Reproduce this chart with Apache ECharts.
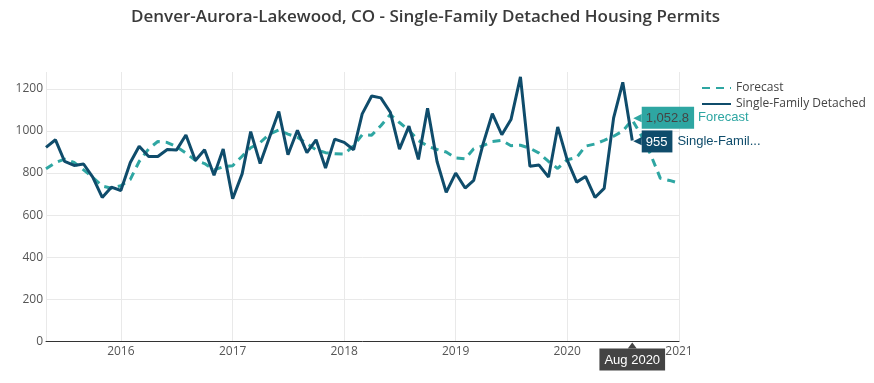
<!DOCTYPE html>
<html>
<head>
<meta charset="utf-8">
<script src="https://cdn.jsdelivr.net/npm/echarts@6/dist/echarts.min.js"></script>
<style>
html,body{margin:0;padding:0;background:#fff;}
#chart{width:874px;height:383px;}
</style>
</head>
<body>
<div id="chart"></div>
<script>
// ---- data ----
const titleText = 'Denver-Aurora-Lakewood, CO - Single-Family Detached Housing Permits';
const seriesNames = ['Forecast', 'Single-Family Detached'];
const months = [
  '2015-05','2015-06','2015-07','2015-08','2015-09','2015-10','2015-11','2015-12',
  '2016-01','2016-02','2016-03','2016-04','2016-05','2016-06','2016-07','2016-08','2016-09','2016-10','2016-11','2016-12',
  '2017-01','2017-02','2017-03','2017-04','2017-05','2017-06','2017-07','2017-08','2017-09','2017-10','2017-11','2017-12',
  '2018-01','2018-02','2018-03','2018-04','2018-05','2018-06','2018-07','2018-08','2018-09','2018-10','2018-11','2018-12',
  '2019-01','2019-02','2019-03','2019-04','2019-05','2019-06','2019-07','2019-08','2019-09','2019-10','2019-11','2019-12',
  '2020-01','2020-02','2020-03','2020-04','2020-05','2020-06','2020-07','2020-08','2020-09','2020-10','2020-11','2020-12',
  '2021-01'
];
const forecast = [
  820, 850, 866, 850, 815, 780, 738, 728,
  740, 770, 855, 915, 950, 945, 925, 895, 860, 845, 815, 830,
  835, 880, 920, 945, 985, 1005, 985, 970, 940, 910, 897, 892,
  890, 930, 982, 980, 1025, 1078, 1040, 1003, 955, 928, 912, 900,
  872, 868, 915, 930, 950, 955, 930, 932, 918, 895, 855, 822,
  863, 874, 928, 938, 955, 975, 1000, 1052.8, 975, 885, 775, 765,
  752
];
const singleFamily = [
  922, 958, 855, 836, 843, 781, 684, 733,
  717, 850, 927, 879, 879, 912, 909, 981, 860, 911, 790, 914,
  678, 796, 997, 845, 968, 1092, 887, 1003, 897, 958, 824, 961,
  946, 911, 1081, 1166, 1157, 1089, 914, 1023, 865, 1108, 855, 708,
  800, 729, 765, 940, 1082, 982, 1054, 1257, 832, 838, 781, 1019,
  863, 757, 784, 684, 727, 1062, 1231, 955
];
const hoverMonth = '2020-08';
const hoverLabel = 'Aug 2020';
const sfShortName = 'Single-Famil...';

const C_FC = '#2ea6a2';
const C_SF = '#0f4c6b';

function toDate(m){ return m + '-01'; }
function fmtNum(v){ return v.toLocaleString('en-US'); }

const hoverIdx = months.indexOf(hoverMonth);

function buildData(vals, isForecast){
  return vals.map(function(v, i){
    const item = { value: [toDate(months[i]), v] };
    if (i === hoverIdx){
      item.symbol = 'circle';
      item.symbolSize = 0.01;
      const col = isForecast ? C_FC : C_SF;
      item.label = {
        show: true,
        position: 'right',
        distance: 1,
        offset: isForecast ? [0, -2] : [0, 1],
        formatter: '{arr|\u25C0}{box|' + fmtNum(v) + '}{nm|' + (isForecast ? seriesNames[0] : sfShortName) + '}',
        rich: {
          arr: { color: col, fontSize: 11, fontFamily: 'DejaVu Sans', lineHeight: 22 },
          box: { backgroundColor: col, color: isForecast ? '#444' : '#fff', fontSize: 13, fontFamily: 'Liberation Sans', padding: [5, 5, 4, 4], lineHeight: 13 },
          nm: { color: col, fontSize: 13, fontFamily: 'Liberation Sans', padding: [0, 0, 0, isForecast ? 4 : 5] }
        }
      };
    }
    return item;
  });
}

const chart = echarts.init(document.getElementById('chart'), null, {renderer: 'canvas'});
const hoverTime = new Date(2020, 7, 1).getTime();

chart.setOption({
  animation: false,
  backgroundColor: '#fff',
  title: {
    text: titleText,
    left: 126,
    top: 4,
    textStyle: { fontFamily: 'Open Sans', fontWeight: 600, fontSize: 17, color: '#3a3a3a' }
  },
  legend: {
    orient: 'vertical',
    left: 696,
    top: 77,
    itemWidth: 29,
    itemHeight: 14,
    itemGap: 4,
    itemStyle: { opacity: 0 },
    textStyle: { fontFamily: 'Open Sans', fontSize: 12, color: '#444' },
    data: seriesNames
  },
  grid: { left: 46, right: 195, top: 72, bottom: 41.5, containLabel: false },
  xAxis: {
    type: 'time',
    min: toDate(months[0]),
    max: toDate(months[months.length - 1]),
    minInterval: 3600 * 24 * 1000 * 365,
    axisLine: { show: true, lineStyle: { color: '#333', width: 1 } },
    axisTick: { show: false },
    splitLine: { show: true, lineStyle: { color: '#e9e9e9', width: 1 } },
    axisLabel: {
      formatter: '{yyyy}',
      fontFamily: 'Open Sans', fontSize: 12, color: '#555', margin: 4,
      showMinLabel: false, showMaxLabel: true, hideOverlap: false
    },
    axisPointer: {
      show: true,
      type: 'line',
      value: hoverTime,
      status: 'show',
      triggerTooltip: false,
      lineStyle: { opacity: 0 },
      label: {
        show: true,
        formatter: function(){ return hoverLabel; },
        backgroundColor: '#444',
        color: '#fff',
        fontFamily: 'Liberation Sans',
        fontSize: 13,
        padding: [5, 5, 4, 5],
        margin: 7,
        borderRadius: 0
      }
    }
  },
  yAxis: {
    type: 'value',
    min: 0,
    max: 1280,
    interval: 200,
    axisLine: { show: false },
    axisTick: { show: false },
    splitLine: { show: true, showMaxLine: false, lineStyle: { color: '#e9e9e9', width: 1 } },
    axisLabel: {
      fontFamily: 'Open Sans', fontSize: 12, color: '#555', margin: 3, showMaxLabel: false,
      formatter: function(v){ return String(v); }
    }
  },
  series: [
    {
      name: seriesNames[0],
      type: 'line',
      symbol: 'none',
      z: 2,
      lineStyle: { color: C_FC, width: 3, type: [8, 6] },
      itemStyle: { color: C_FC },
      data: buildData(forecast, true),
      markPoint: {
        silent: true,
        symbol: 'triangle',
        symbolSize: [9, 6],
        symbolOffset: [0, 4],
        itemStyle: { color: '#444' },
        label: { show: false },
        data: [{ coord: [toDate(hoverMonth), 0] }]
      }
    },
    {
      name: seriesNames[1],
      type: 'line',
      symbol: 'none',
      z: 3,
      lineStyle: { color: C_SF, width: 3 },
      itemStyle: { color: C_SF },
      data: buildData(singleFamily, false)
    }
  ]
});
</script>
</body>
</html>
